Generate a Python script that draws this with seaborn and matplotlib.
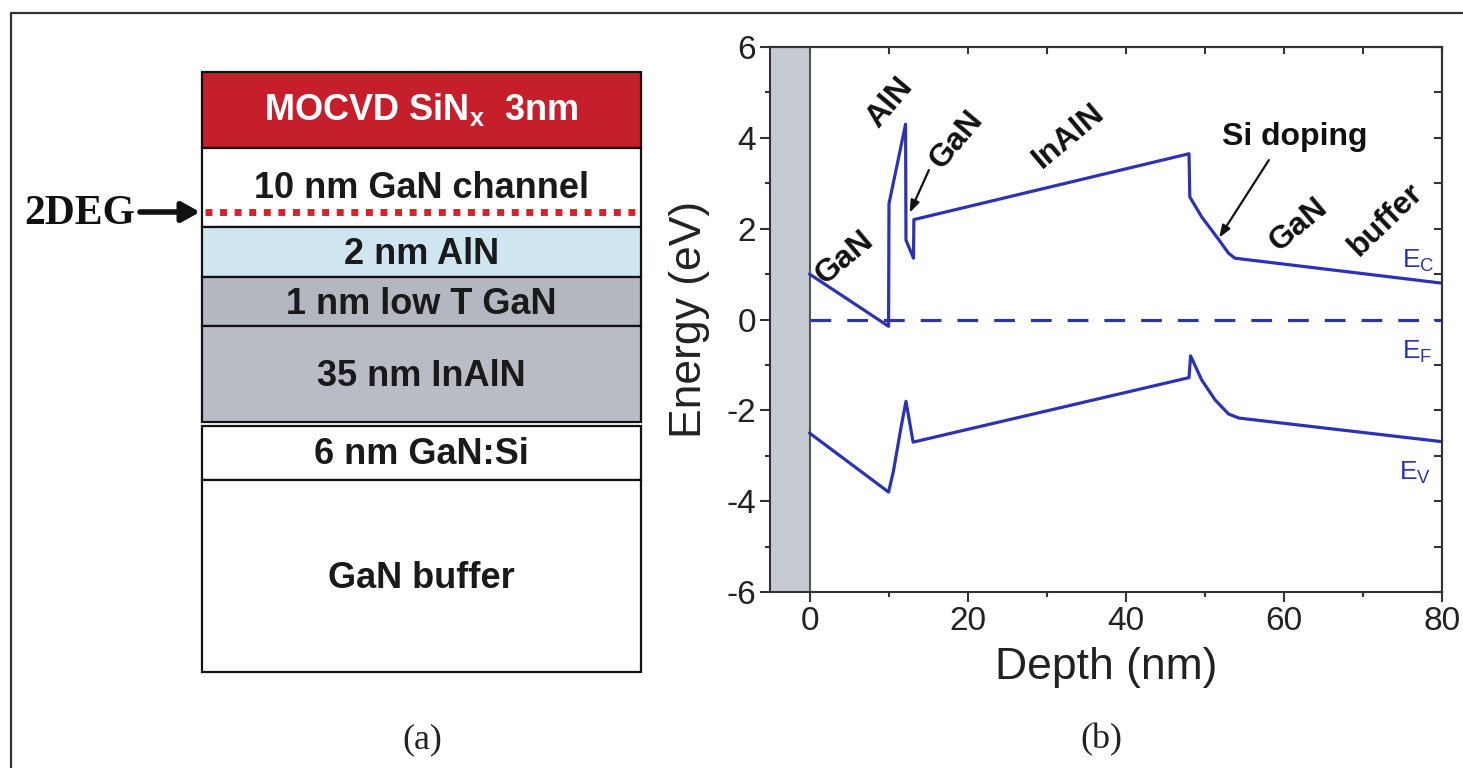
import matplotlib
matplotlib.use("Agg")
import matplotlib.pyplot as plt
import seaborn as sns
from matplotlib.lines import Line2D

# ---- (a) layer stack: label, colour and drawn extent (px, top -> bottom)
layer_labels = [r"MOCVD SiN$_\mathregular{x}$  3nm", "10 nm GaN channel", "2 nm AlN",
                "1 nm low T GaN", "35 nm InAlN", "6 nm GaN:Si", "GaN buffer"]
layer_top = [72, 148, 227, 277, 326, 426, 480]
layer_bottom = [148, 227, 277, 326, 422, 480, 672]
layer_colors = ["#c41f2a", "#ffffff", "#cfe6f1", "#b3b7bf", "#b9bcc4", "#ffffff", "#ffffff"]
layer_text_colors = ["white", "#1a1a1a", "#1a1a1a", "#1a1a1a", "#1a1a1a", "#1a1a1a", "#1a1a1a"]
layer_text_y = [110, 188, 255, 304, 376, 454, 578]
twodeg_y = 212

# ---- (b) band diagram
ec_depth = [0, 10.0, 10.05, 12.15, 12.2, 13.15, 13.2, 48.0, 48.1, 49.6, 51.8, 53.0, 53.8, 80]
ec_energy = [1.0, -0.15, 2.55, 4.3, 1.75, 1.35, 2.2, 3.65, 2.7, 2.26, 1.75, 1.46, 1.35, 0.8]
ev_depth = [0, 10.0, 10.6, 11.6, 12.2, 13.1, 48.0, 48.2, 49.6, 51.3, 53.0, 54.3, 80]
ev_energy = [-2.5, -3.8, -3.35, -2.35, -1.8, -2.7, -1.28, -0.8, -1.33, -1.77, -2.08, -2.17, -2.69]
ef_depth = [0, 80]
ef_energy = [0, 0]

region_labels = ["GaN", "AlN", "GaN", "InAlN", "Si doping", "GaN", "buffer"]
region_x = [4.4, 10.1, 18.6, 32.8, 61.4, 61.9, 72.9]
region_y = [1.35, 4.77, 3.95, 4.05, 4.02, 2.08, 2.19]
region_rot = [40, 50, 50, 40, 0, 40, 44]

band_labels = [r"E$_\mathregular{C}$", r"E$_\mathregular{F}$", r"E$_\mathregular{V}$"]
band_label_x = [75.0, 75.0, 74.6]
band_label_y = [1.3, -0.72, -3.38]

blue = "#2b33b3"
gray_band = "#c5cad3"
dark = "#333333"

sns.set_theme(style="ticks")
plt.rcParams["font.family"] = ["Liberation Sans", "DejaVu Sans"]
plt.rcParams["axes.linewidth"] = 1.5
plt.rcParams["axes.edgecolor"] = dark
plt.rcParams["axes.unicode_minus"] = False

W, H = 1463, 768
fig = plt.figure(figsize=(W / 100, H / 100), dpi=100)
fig.patch.set_facecolor("white")

# outer frame (top and left edges)
fig.add_artist(Line2D([11 / W, 1], [1 - 13 / H, 1 - 13 / H], transform=fig.transFigure, color=dark, lw=1.6))
fig.add_artist(Line2D([11 / W, 11 / W], [0, 1 - 13 / H], transform=fig.transFigure, color=dark, lw=1.6))

# ---------------- panel (a)
box_left, box_right = 202, 641
ax_a = fig.add_axes([0, 0, 700 / W, 1])
ax_a.set_xlim(0, 700)
ax_a.set_ylim(H, 0)
ax_a.axis("off")

heights = [b - t for t, b in zip(layer_top, layer_bottom)]
ax_a.bar(x=(box_left + box_right) / 2, height=heights, bottom=layer_top,
         width=box_right - box_left, color=layer_colors, edgecolor="#111111", linewidth=1.6)
for lab, ty, tc in zip(layer_labels, layer_text_y, layer_text_colors):
    ax_a.text((box_left + box_right) / 2, ty, lab, ha="center", va="center",
              fontsize=26, fontweight="bold", color=tc)

ax_a.plot([box_left + 3, box_right - 3], [twodeg_y, twodeg_y], color="#d3242a",
          lw=5, dashes=(1, 1.1), solid_capstyle="butt")
ax_a.annotate("", xy=(box_left - 2, twodeg_y), xytext=(140, twodeg_y),
              arrowprops=dict(arrowstyle="-|>,head_length=0.9,head_width=0.5",
                              lw=4, color="#111111", shrinkA=0, shrinkB=0))
ax_a.text(24, twodeg_y + 2, "2DEG", ha="left", va="center", fontsize=30, fontweight="bold",
          family=["Liberation Serif", "DejaVu Serif"], color="#111111")

# ---------------- panel (b)
ax = fig.add_axes([770 / W, 1 - 592 / H, 672 / W, 545 / H])
ax.axvspan(-5, 0, color=gray_band, zorder=0, lw=0)
ax.axvline(0, color="#555555", lw=1.5, zorder=1)

sns.lineplot(x=ec_depth, y=ec_energy, sort=False, estimator=None, ax=ax, color=blue, lw=2.3)
sns.lineplot(x=ev_depth, y=ev_energy, sort=False, estimator=None, ax=ax, color=blue, lw=2.3)
ax.plot(ef_depth, ef_energy, color=blue, lw=2.3, dashes=(6.5, 5))

ax.set_xlim(-5, 80)
ax.set_ylim(-6, 6)
ax.set_xticks([0, 20, 40, 60, 80])
ax.set_xticks([10, 30, 50, 70], minor=True)
ax.set_yticks(list(range(-6, 7, 2)))
ax.set_yticks([-5, -3, -1, 1, 3, 5], minor=True)
ax.tick_params(which="major", direction="out", length=7, width=1.5, labelsize=24,
               colors=dark, labelcolor="#222222", top=False, right=False, pad=3)
ax.tick_params(which="minor", direction="out", length=3.5, width=1.5, colors=dark,
               top=False, right=False)

secx = ax.secondary_xaxis("top")
secx.set_xticks(list(range(0, 81, 10)), labels=[""] * 9)
secx.tick_params(direction="in", length=5, width=1.5, colors=dark)
secy = ax.secondary_yaxis("right")
secy.set_yticks(list(range(-6, 7)), labels=[""] * 13)
secy.tick_params(direction="in", length=5.5, width=1.5, colors=dark)

ax.set_xlabel("Depth (nm)", fontsize=32, color="#222222")
ax.set_ylabel("Energy (eV)", fontsize=32, color="#222222")
ax.xaxis.set_label_coords(0.5, -0.1)
ax.yaxis.set_label_coords(-0.09, 0.5)

for lab, x, y, r in zip(region_labels, region_x, region_y, region_rot):
    ax.text(x, y, lab, ha="center", va="center", rotation=r, rotation_mode="anchor",
            fontsize=23, fontweight="bold", color="#111111")

ax.annotate("", xy=(12.66, 2.35), xytext=(15.1, 3.29),
            arrowprops=dict(arrowstyle="-|>,head_length=0.6,head_width=0.22",
                            lw=1.6, color="#111111", shrinkA=0, shrinkB=0))
ax.annotate("", xy=(51.8, 1.8), xytext=(58.1, 3.51),
            arrowprops=dict(arrowstyle="-|>,head_length=0.6,head_width=0.22",
                            lw=1.6, color="#111111", shrinkA=0, shrinkB=0))

for lab, x, y in zip(band_labels, band_label_x, band_label_y):
    ax.text(x, y, lab, ha="left", va="center", fontsize=19, color=blue)

# captions
fig.text(422 / W, 1 - 740 / H, "(a)", ha="center", va="center", fontsize=26,
         family=["Liberation Serif", "DejaVu Serif"], color="#222222")
fig.text(1101 / W, 1 - 740 / H, "(b)", ha="center", va="center", fontsize=26,
         family=["Liberation Serif", "DejaVu Serif"], color="#222222")

fig.savefig("out.png", dpi=100, facecolor="white")
